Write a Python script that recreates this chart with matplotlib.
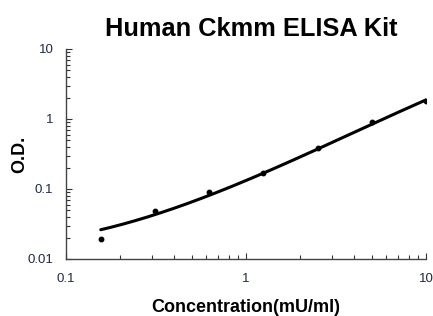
import numpy as np
import matplotlib
matplotlib.use("Agg")
import matplotlib.pyplot as plt
from matplotlib.ticker import LogLocator, NullFormatter, FixedLocator, FixedFormatter

plt.rcParams['font.family'] = ['Liberation Sans', 'DejaVu Sans']

# 标准品浓度与测得的 O.D.
concentration = [0.156, 0.3125, 0.625, 1.25, 2.5, 5.0, 10.0]
od_values = [0.0193, 0.0485, 0.0914, 0.1675, 0.381, 0.914, 1.82]

# 拟合曲线在各浓度处的读数
curve_od = [0.0259, 0.044, 0.082, 0.163, 0.37, 0.87, 1.85]

x_ticks = [0.1, 1, 10]
x_tick_labels = ['0.1', '1', '10']
y_ticks = [0.01, 0.1, 1, 10]
y_tick_labels = ['0.01', '0.1', '1', '10']

fig = plt.figure(figsize=(4.33, 3.16), dpi=100)
ax = fig.add_axes([0.1524, 0.1804, 0.8316, 0.6646])

# 在对数空间平滑拟合曲线
lx = np.log10(concentration)
coef = np.polyfit(lx, np.log10(curve_od), 3)
xs = np.linspace(lx[0], lx[-1], 200)
ax.plot(10 ** xs, 10 ** np.polyval(coef, xs), color='black', lw=2.2, solid_capstyle='round')
ax.plot(concentration, od_values, 'o', color='black', markersize=3.2)

ax.set_xscale('log')
ax.set_yscale('log')
ax.set_xlim(0.1, 10)
ax.set_ylim(0.01, 10)

ax.xaxis.set_major_locator(FixedLocator(x_ticks))
ax.xaxis.set_major_formatter(FixedFormatter(x_tick_labels))
ax.yaxis.set_major_locator(FixedLocator(y_ticks))
ax.yaxis.set_major_formatter(FixedFormatter(y_tick_labels))
for axis in (ax.xaxis, ax.yaxis):
    axis.set_minor_locator(LogLocator(base=10, subs=np.arange(2, 10)))
    axis.set_minor_formatter(NullFormatter())

ax.tick_params(which='major', direction='in', length=4, width=0.8, labelsize=9.5,
               colors='#333333', labelcolor='#1f2a44')
ax.tick_params(which='minor', direction='in', length=3, width=0.8, colors='#333333')
ax.tick_params(axis='x', which='major', pad=10)
ax.tick_params(axis='y', which='major', pad=9)

for side in ('top', 'right'):
    ax.spines[side].set_visible(False)
for side in ('left', 'bottom'):
    ax.spines[side].set_color('#444444')
    ax.spines[side].set_linewidth(1.0)

fig.text(0.58, 0.908, 'Human Ckmm ELISA Kit', ha='center', va='center',
         fontsize=18.3, fontweight='bold')
ax.set_xlabel('Concentration(mU/ml)', fontsize=13, fontweight='bold', va='center')
ax.set_ylabel('O.D.', fontsize=13, fontweight='bold', va='center')
ax.xaxis.set_label_coords(0.5, -0.233)
ax.yaxis.set_label_coords(-0.128, 0.5)

fig.savefig('out.png', dpi=100)
